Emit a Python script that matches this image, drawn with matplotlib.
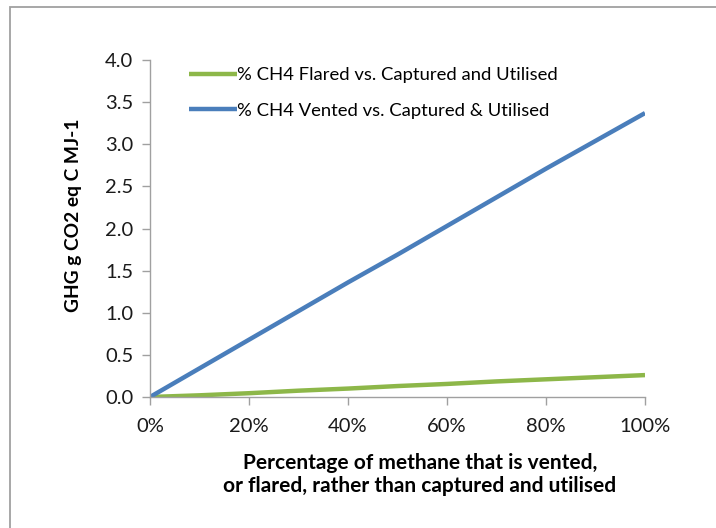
import matplotlib
matplotlib.use("Agg")
import matplotlib.pyplot as plt
from matplotlib.patches import Rectangle

pct = [0, 10, 20, 30, 40, 50, 60, 70, 80, 90, 100]
vented = [0.0, 0.34, 0.68, 1.02, 1.36, 1.69, 2.03, 2.37, 2.71, 3.04, 3.37]
flared = [0.0, 0.02, 0.045, 0.075, 0.10, 0.13, 0.155, 0.185, 0.21, 0.235, 0.26]
xticks = [0, 20, 40, 60, 80, 100]
xticklabels = ["0%", "20%", "40%", "60%", "80%", "100%"]
yticks = [0.0, 0.5, 1.0, 1.5, 2.0, 2.5, 3.0, 3.5, 4.0]
label_flared = "% CH4 Flared vs. Captured and Utilised"
label_vented = "% CH4 Vented vs. Captured & Utilised"

plt.rcParams['font.family'] = ['Lato', 'DejaVu Sans']

fig = plt.figure(figsize=(7.16, 5.28), dpi=100)
fig.patches.append(Rectangle((9.5/716, -0.1), 1.2, 1 - 7.5/528 + 0.1, transform=fig.transFigure,
                             fill=False, edgecolor='#a0a0a0', linewidth=1.3))
ax = fig.add_axes([150/716, 1 - 397/528, (645 - 150)/716, (397 - 60)/528])

ax.plot(pct, flared, color='#8db749', linewidth=3.2, label=label_flared, solid_capstyle='butt')
ax.plot(pct, vented, color='#4a7ebb', linewidth=3.2, label=label_vented, solid_capstyle='butt')

ax.set_xlim(0, 100)
ax.set_ylim(0, 4.0)
ax.set_xticks(xticks)
ax.set_xticklabels(xticklabels)
ax.set_yticks(yticks)
ax.set_yticklabels([f"{v:.1f}" for v in yticks])

for s in ['top', 'right']:
    ax.spines[s].set_visible(False)
for s in ['left', 'bottom']:
    ax.spines[s].set_color('#a0a0a0')
    ax.spines[s].set_linewidth(1.0)
ax.tick_params(axis='both', colors='#a0a0a0', labelcolor='#1a1a1a', labelsize=14.5,
               length=6, width=1.0, direction='out')
ax.tick_params(axis='x', pad=9)
ax.tick_params(axis='y', pad=6)

ax.set_ylabel("GHG g CO2 eq C MJ-1", fontsize=13.8, fontweight='bold')
ax.yaxis.set_label_coords(-0.137, 0.539)
ax.set_xlabel("Percentage of methane that is vented,\nor flared, rather than captured and utilised",
              fontsize=15, fontweight='bold', linespacing=1.2)
ax.xaxis.set_label_coords(0.545, -0.165)

leg = ax.legend(loc='upper left', bbox_to_anchor=(0.045, 1.028), frameon=False, fontsize=13.3,
                handlelength=2.6, handletextpad=0.0, labelspacing=1.05)

fig.savefig("out.png", dpi=100)
